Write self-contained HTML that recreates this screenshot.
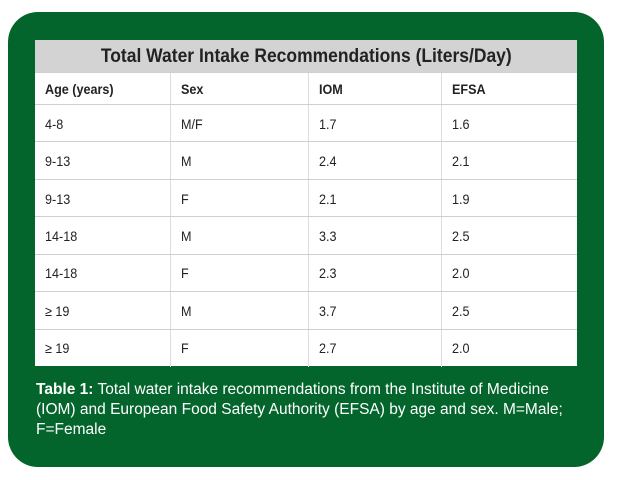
<!DOCTYPE html>
<html><head><style>
body{margin:0;width:617px;height:480px;background:#fff;position:relative;overflow:hidden;font-family:"Liberation Sans Narrow","Liberation Sans",sans-serif;}
#box{position:absolute;left:8px;top:12px;width:596px;height:455px;background:#03652b;border-radius:30px;}
#tbl{position:absolute;left:35px;top:40px;width:542px;height:326px;background:#fff;}
.title{position:absolute;left:0;top:0;width:542px;height:32px;background:#d3d3d3;font-weight:bold;font-size:19px;color:#222;text-align:center;line-height:33px;}
.title span{display:inline-block;transform:scaleX(0.92);}
.row{position:absolute;left:0;width:542px;border-top:1px solid #cfcfcf;font-size:14px;color:#222;}
.c{position:absolute;top:0;height:100%;padding-left:10px;box-sizing:border-box;border-left:1px solid #ddd;display:flex;align-items:center;}
.c span{display:inline-block;transform:scaleX(0.9);transform-origin:left center;}
.hdr{font-weight:bold}
#cap{position:absolute;left:36px;top:380px;width:560px;color:#fff;font-size:15.5px;line-height:20px;white-space:nowrap;}
</style></head><body>
<div id="box"></div>
<div id="tbl">
<div class="title"><span>Total Water Intake Recommendations (Liters/Day)</span></div>
<div id="rows"></div>
</div>
<div id="cap"><b>Table 1:</b> Total water intake recommendations from the Institute of Medicine<br>(IOM) and European Food Safety Authority (EFSA) by age and sex. M=Male;<br>F=Female</div>
<script>
const headers=["Age (years)","Sex","IOM","EFSA"];
const ages=["4-8","9-13","9-13","14-18","14-18","≥ 19","≥ 19"];
const sexes=["M/F","M","F","M","F","M","F"];
const iom=["1.7","2.4","2.1","3.3","2.3","3.7","2.7"];
const efsa=["1.6","2.1","1.9","2.5","2.0","2.5","2.0"];
const colX=[0,135,273,406,542];
const rows=document.getElementById('rows');
function addRow(vals,top,h,cls,name){
  const r=document.createElement('div');
  r.className='row '+cls;
  r.style.top=top+'px';r.style.height=h+'px';
  
  
  vals.forEach((v,i)=>{
    const c=document.createElement('div');
    c.className='c';c.style.left=colX[i]+'px';c.style.width=(colX[i+1]-colX[i])+'px';
    if(i===0)c.style.borderLeft='none';
    const s=document.createElement('span');
    s.textContent=v;
    c.appendChild(s);
    
    
    r.appendChild(c);
  });
  rows.appendChild(r);
}
addRow(headers,32,32,'hdr','header-row');
const rh=(326-64)/ages.length;
ages.forEach((a,i)=>addRow([a,sexes[i],iom[i],efsa[i]],64+i*rh,rh,'','data-row'));
</script>
</body></html>
